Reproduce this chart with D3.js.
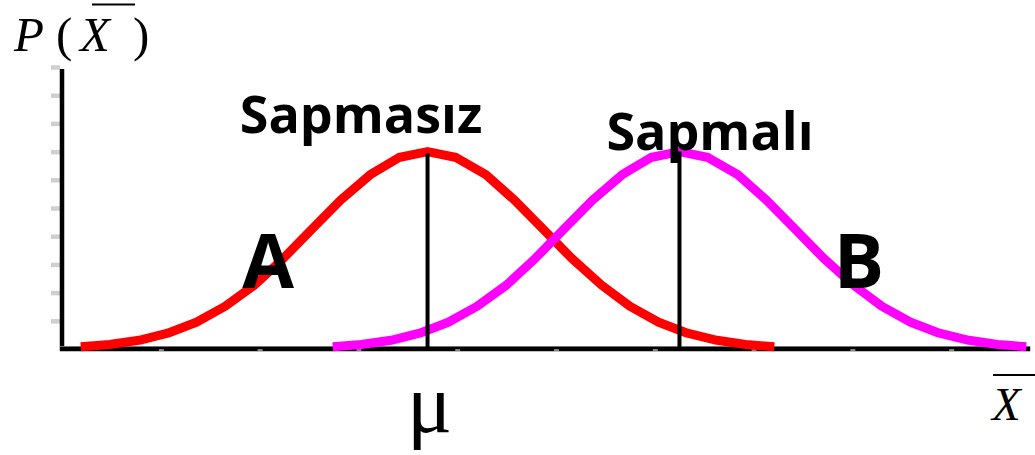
<!DOCTYPE html>
<html>
<head>
<meta charset="utf-8">
<script src="https://cdn.jsdelivr.net/npm/d3@7"></script>
<style>
	html, body { margin: 0; padding: 0; background: #fff; }
	svg { display: block; }
	.lbl { font-family: "Open Sans", sans-serif; font-weight: bold; fill: #000; }
	.math { font-family: "Liberation Serif", "DejaVu Serif", serif; fill: #000; }
</style>
</head>
<body>
<div id="chart"></div>
<script>
// tick values (arbitrary units)
var xTicks = [1, 2, 3, 4, 5, 6, 7, 8, 9],
	yTicks = [1, 2, 3, 4, 5, 6, 7, 8, 9, 10];
// curve heights, read at the same points for both curves
var heights = [0.08, 0.16, 0.31, 0.56, 0.95, 1.51, 2.27, 3.21, 4.25, 5.28, 6.18, 6.79, 7.00,
	6.79, 6.18, 5.28, 4.25, 3.21, 2.27, 1.51, 0.95, 0.56, 0.31, 0.16, 0.08];
// A : sapmasiz (red)
var redX = [0.19, 0.48, 0.78, 1.07, 1.36, 1.65, 1.95, 2.24, 2.53, 2.82, 3.12, 3.41, 3.70,
	3.99, 4.29, 4.58, 4.87, 5.16, 5.46, 5.75, 6.04, 6.33, 6.63, 6.92, 7.21];
// B : sapmali (magenta)
var magentaX = [2.74, 3.03, 3.33, 3.62, 3.91, 4.20, 4.50, 4.79, 5.08, 5.37, 5.67, 5.96, 6.25,
	6.54, 6.84, 7.13, 7.42, 7.71, 8.01, 8.30, 8.59, 8.88, 9.18, 9.47, 9.76];
var means = [3.70, 6.25],
	peak = 7.00;

;(function(d3){
	var width = 1035,
		height = 455;
	var svg = d3.select("#chart").append("svg")
		.attr("width", width)
		.attr("height", height);

	var x = d3.scaleLinear().domain([0, 9.8]).range([62, 1030.2]),
		y = d3.scaleLinear().domain([0, 10]).range([349, 67]);

	/****** axes ******/
	// y ticks: light gray dashes left of the axis
	var yAxis = svg.append("g")
		.attr("transform", "translate(60,0)")
		.call(d3.axisLeft(y).tickValues(yTicks).tickSize(9).tickFormat(""));
	yAxis.select(".domain").remove();
	yAxis.selectAll(".tick line").attr("stroke", "#cfcfcf").attr("stroke-width", 4.5);

	// axis lines
	svg.append("line").attr("x1", x(0)).attr("x2", x(0))
		.attr("y1", y(9.93)).attr("y2", y(0) + 2)
		.attr("stroke", "#000").attr("stroke-width", 4.5);
	svg.append("line")
		.attr("x1", x(0) - 2).attr("x2", x(9.8))
		.attr("y1", y(0) - 2.5).attr("y2", y(0) - 2.5)
		.attr("stroke", "#999").attr("stroke-width", 1);
	svg.append("line")
		.attr("x1", x(0) - 2).attr("x2", x(9.8))
		.attr("y1", y(0)).attr("y2", y(0))
		.attr("stroke", "#000").attr("stroke-width", 4.5);

	// x ticks: tiny gray dashes sitting on the axis
	var xAxis = svg.append("g")
		.attr("transform", "translate(0," + (y(0) + 0.3) + ")")
		.call(d3.axisBottom(x).tickValues(xTicks).tickSize(1.4).tickFormat(""));
	xAxis.select(".domain").remove();
	xAxis.selectAll(".tick line").attr("stroke", "#bdbdbd").attr("stroke-width", 5);

	/****** curves ******/
	var line = d3.line()
		.x(function(d){ return x(d[0]); })
		.y(function(d){ return y(d[1]); });
	var series = [
		{xs: redX, color: "#ff0000"},
		{xs: magentaX, color: "#ff00ff"}
	];
	svg.append("g").selectAll("path").data(series).enter().append("path")
		.attr("d", function(s){
			return line(s.xs.map(function(v, i){ return [v, heights[i]]; }));
		})
		.attr("fill", "none")
		.attr("stroke", function(s){ return s.color; })
		.attr("stroke-width", 9)
		.attr("stroke-linejoin", "round");

	// mean lines
	svg.append("g").selectAll("line").data(means).enter().append("line")
		.attr("x1", function(d){ return x(d); })
		.attr("x2", function(d){ return x(d); })
		.attr("y1", y(0))
		.attr("y2", function(d, i){ return y(peak) + (i ? 0 : 2); })
		.attr("stroke", "#000")
		.attr("stroke-width", 4);

	/****** labels ******/
	svg.append("text").attr("class", "lbl").attr("x", 361).attr("y", 133)
		.attr("text-anchor", "middle").style("font-size", "52px").text("Sapmasız");
	svg.append("text").attr("class", "lbl").attr("x", 710).attr("y", 150)
		.attr("text-anchor", "middle").style("font-size", "52px").text("Sapmalı");
	svg.append("text").attr("class", "lbl").attr("x", 268).attr("y", 288)
		.attr("text-anchor", "middle").style("font-size", "75px").text("A");
	svg.append("text").attr("class", "lbl").attr("x", 859).attr("y", 288)
		.attr("text-anchor", "middle").style("font-size", "75px").text("B");

	// P ( X ) with bar
	var m = svg.append("g").attr("class", "math").style("font-size", "49px");
	m.append("text").attr("x", 14).attr("y", 51).style("font-style", "italic").text("P");
	m.append("text").attr("x", 56).attr("y", 51).text("(");
	m.append("text").attr("x", 80).attr("y", 51).style("font-style", "italic").text("X");
	m.append("text").attr("x", 133).attr("y", 51).text(")");
	svg.append("line").attr("x1", 92).attr("x2", 135).attr("y1", 4.5).attr("y2", 4.5)
		.attr("stroke", "#000").attr("stroke-width", 2);

	// x axis label X with bar
	svg.append("text").attr("class", "math").attr("x", 992).attr("y", 420)
		.style("font-size", "47px").style("font-style", "italic").text("X");
	svg.append("line").attr("x1", 993).attr("x2", 1035).attr("y1", 375).attr("y2", 375)
		.attr("stroke", "#000").attr("stroke-width", 2);

	// mu under the mean of A
	svg.append("text").attr("class", "math").attr("x", x(means[0]) + 2).attr("y", 432)
		.attr("text-anchor", "middle").style("font-size", "84px").text("μ");
})(d3);
</script>
</body>
</html>
